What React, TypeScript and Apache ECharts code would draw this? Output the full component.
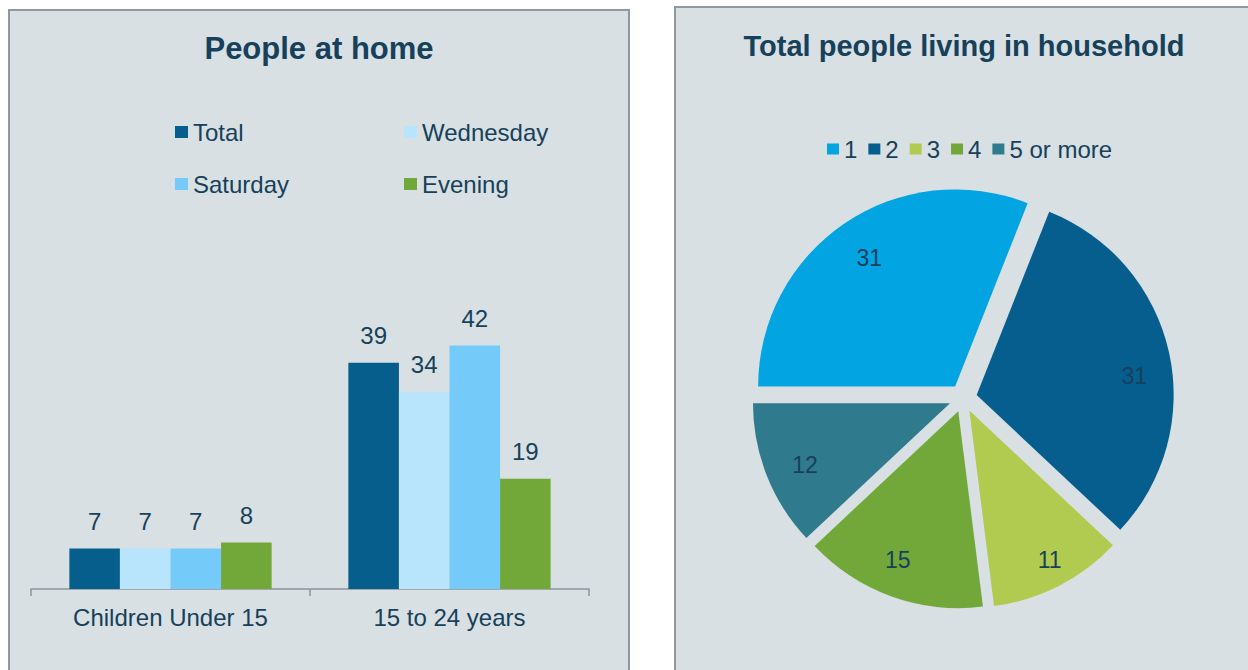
import React, { useEffect, useRef } from "react";
import * as echarts from "echarts";

const barCategories = ["Children Under 15", "15 to 24 years"];
const barSeriesNames = ["Total", "Wednesday", "Saturday", "Evening"];
const totalValues = [7, 39];
const wednesdayValues = [7, 34];
const saturdayValues = [7, 42];
const eveningValues = [8, 19];
const barColors = ["#065E8D", "#B8E5FB", "#74CBF9", "#72A83A"];

const pieNames = ["1", "2", "3", "4", "5 or more"];
const pieValues = [31, 31, 11, 15, 12];
const pieColors = ["#02A5E2", "#065E8E", "#B1CB50", "#72A83A", "#2F7B8D"];

const TEXT = "#17405A";
const FONT = "Liberation Sans, Arial, sans-serif";
const PANEL = "#D8E0E3";
const BORDER = "#8F989F";

// label nudges (styling only) to mimic the original's label placement
const pieLabelNudge: [number, number][] = [
  [6, 7],
  [-2, 17],
  [6, 4],
  [-5, -5],
  [7, 2],
];

export default function App() {
  const ref = useRef<HTMLDivElement>(null);

  useEffect(() => {
    if (!ref.current) return;
    const chart = echarts.init(ref.current, null, { renderer: "svg" });
    const barData = [totalValues, wednesdayValues, saturdayValues, eveningValues];

    const legendBase = {
      orient: "horizontal",
      icon: "rect",
      itemWidth: 13,
      itemHeight: 12,
      padding: 0,
      selectedMode: false,
      textStyle: { fontSize: 24, color: TEXT, fontFamily: FONT },
    };

    const option: any = {
      animation: false,
      backgroundColor: "#FFFFFF",
      textStyle: { fontFamily: FONT },
      graphic: [
        {
          type: "rect",
          z: -10,
          shape: { x: 9, y: 10, width: 620, height: 720 },
          style: { fill: PANEL, stroke: BORDER, lineWidth: 2 },
          silent: true,
        },
        {
          type: "rect",
          z: -10,
          shape: { x: 675, y: 7, width: 620, height: 720 },
          style: { fill: PANEL, stroke: BORDER, lineWidth: 2 },
          silent: true,
        },
        {
          type: "text",
          z: 10,
          x: 319,
          y: 48,
          style: {
            text: "People at home",
            fill: TEXT,
            font: `bold 31px ${FONT}`,
            textAlign: "center",
            textVerticalAlign: "middle",
          },
        },
        {
          type: "text",
          z: 10,
          x: 964,
          y: 46,
          style: {
            text: "Total people living in household",
            fill: TEXT,
            font: `bold 29px ${FONT}`,
            textAlign: "center",
            textVerticalAlign: "middle",
          },
        },
      ],
      legend: [
        { ...legendBase, data: ["Total"], left: 175, top: 120 },
        { ...legendBase, data: ["Wednesday"], left: 404, top: 120 },
        { ...legendBase, data: ["Saturday"], left: 175, top: 172 },
        { ...legendBase, data: ["Evening"], left: 404, top: 172 },
        {
          ...legendBase,
          itemWidth: 12,
          itemHeight: 11,
          itemGap: 11,
          left: 827,
          top: 137,
          data: pieNames.map((n, i) => ({ name: n, itemStyle: { color: pieColors[i] } })),
        },
      ],
      grid: { left: 31, top: 299, width: 558, height: 290 },
      xAxis: {
        type: "category",
        data: barCategories,
        axisLine: { show: true, lineStyle: { color: "#8C959B", width: 1.5 } },
        axisTick: { show: true, length: 7, lineStyle: { color: "#8C959B", width: 1.5 } },
        axisLabel: { fontSize: 24, color: TEXT, margin: 16, fontFamily: FONT },
        splitLine: { show: false },
      },
      yAxis: {
        type: "value",
        min: 0,
        max: 50,
        show: false,
        splitLine: { show: false },
      },
      series: [
        ...barSeriesNames.map((name, i) => ({
          name,
          type: "bar",
          data: barData[i],
          barGap: "0%",
          barCategoryGap: "27.5%",
          itemStyle: { color: barColors[i] },
          label: {
            show: true,
            position: "top",
            distance: 15,
            fontSize: 24,
            color: TEXT,
            fontFamily: FONT,
          },
          emphasis: { disabled: true },
        })),
        {
          name: "household",
          type: "pie",
          center: [963, 398],
          radius: [0, 197],
          startAngle: 180,
          clockwise: true,
          selectedMode: "multiple",
          selectedOffset: 14,
          avoidLabelOverlap: false,
          label: { show: false },
          labelLine: { show: false },
          emphasis: { disabled: true },
          data: pieNames.map((n, i) => ({
            name: n,
            value: pieValues[i],
            selected: true,
            itemStyle: { color: pieColors[i] },
          })),
        },
        {
          name: "household-labels",
          type: "pie",
          center: [963, 398],
          radius: [124, 197],
          startAngle: 180,
          clockwise: true,
          selectedMode: "multiple",
          selectedOffset: 14,
          avoidLabelOverlap: false,
          silent: true,
          itemStyle: { color: "rgba(0,0,0,0)" },
          label: {
            show: true,
            position: "inside",
            formatter: "{c}",
            fontSize: 23,
            color: TEXT,
            fontFamily: FONT,
          },
          labelLayout: (p: any) => ({
            dx: pieLabelNudge[p.dataIndex][0],
            dy: pieLabelNudge[p.dataIndex][1],
          }),
          labelLine: { show: false },
          emphasis: { disabled: true },
          data: pieNames.map((n, i) => ({
            name: n,
            value: pieValues[i],
            selected: true,
            itemStyle: { color: "rgba(0,0,0,0)" },
          })),
        },
      ],
    };

    chart.setOption(option);
    return () => {
      chart.dispose();
    };
  }, []);

  return (
    <div
      ref={ref}
      style={{ position: "fixed", left: 0, top: 0, width: 1248, height: 670 }}
    />
  );
}
